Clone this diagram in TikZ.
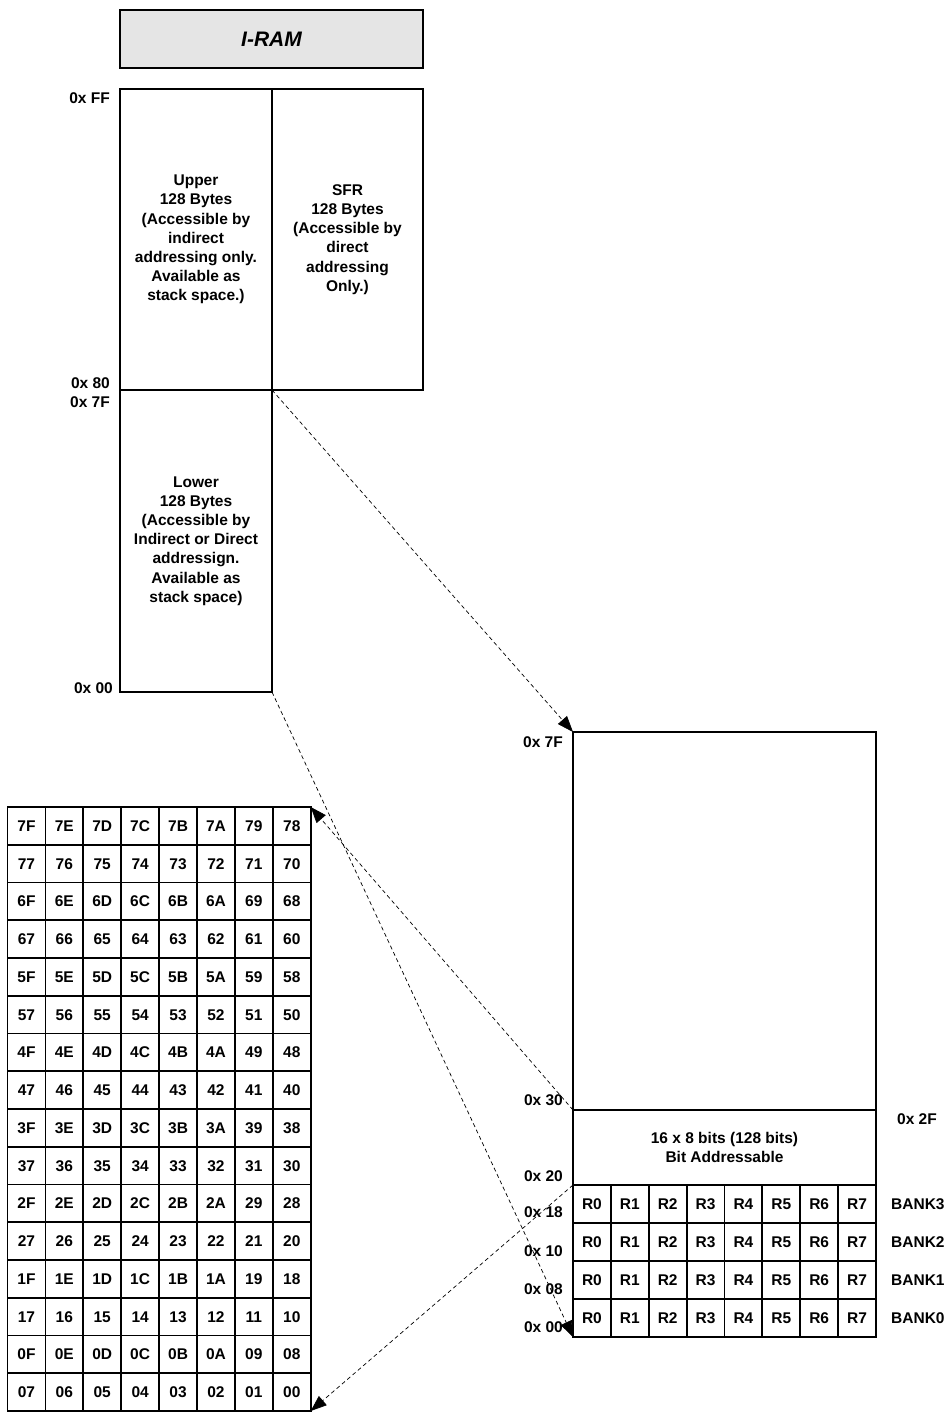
\documentclass[tikz,border=0pt]{standalone}
\usepackage{fontspec}
\setmainfont{Liberation Sans}
\usetikzlibrary{arrows.meta}
\begin{document}
\begin{tikzpicture}[x=1pt,y=-1pt,
  font=\fontsize{15.5}{19.2}\selectfont\bfseries,
  box/.style={draw, line width=1.8pt, inner sep=0pt, outer sep=0pt, align=center, anchor=north west},
  cell/.style={draw, line width=1.8pt, inner sep=0pt, outer sep=0pt, anchor=north west, text height=11.2pt, text depth=0pt},
  lbl/.style={anchor=east, inner sep=0pt, text height=11.2pt, text depth=0pt},
  rlbl/.style={anchor=west, inner sep=0pt, text height=11.2pt, text depth=0pt},
  link/.style={dash pattern=on 4pt off 3pt, line width=0.7pt, -{Triangle[length=16pt,width=12pt]}}]
\useasboundingbox (0,0) rectangle (949,1412);
% title
\node[box, line width=2.5pt, fill=black!10, minimum width=303pt, minimum height=58pt,
      font=\fontsize{21}{25}\selectfont\bfseries\itshape] (title) at (120,10) {I-RAM};
% upper / SFR / lower
\node[box, minimum width=152pt, minimum height=301pt] (up) at (120,89)
  {Upper\\128 Bytes\\(Accessible by\\indirect\\addressing only.\\Available as\\stack space.)};
\node[box, minimum width=151pt, minimum height=301pt] (sfr) at (272,89)
  {SFR\\128 Bytes\\(Accessible by\\direct\\addressing\\Only.)};
\node[box, minimum width=152pt, minimum height=302pt] (low) at (120,390)
  {Lower\\128 Bytes\\(Accessible by\\Indirect or Direct\\addressign.\\Available as\\stack space)};
% left labels
\node[lbl] (lff) at (110,98) {0x FF};
\node[lbl] (l80) at (110,383) {0x 80};
\node[lbl] (l7f) at (110,402) {0x 7F};
\node[lbl] (l00) at (113,688) {0x 00};
% right memory box
\node[box, minimum width=303pt, minimum height=378pt] (rt) at (573,732) {};
\node[box, minimum width=303pt, minimum height=75pt] (ba) at (573,1110) {16 x 8 bits (128 bits)\\Bit Addressable};
\foreach \b/\row in {3/0,2/1,1/2,0/3}{
  \foreach \c in {0,...,7}{
    \node[cell, minimum width=37.875pt, minimum height=38pt] (b\b-\c) at ({573+37.875*\c},{1185+38*\row}) {R\c};
  }
  \node[rlbl] (bank\b) at (891,{1204+38*\row}) {BANK\b};
}
\node[lbl] (r7f) at (563,742) {0x 7F};
\node[lbl] (r30) at (563,1100) {0x 30};
\node[lbl] (r20) at (563,1176) {0x 20};
\node[lbl] (r18) at (563,1212) {0x 18};
\node[lbl] (r10) at (563,1251) {0x 10};
\node[lbl] (r08) at (563,1289) {0x 08};
\node[lbl] (r00) at (563,1327) {0x 00};
\node[rlbl] (r2f) at (897,1119) {0x 2F};
% bit-addressable grid
\pgfmathsetbasenumberlength{2}
\foreach \r in {0,...,15}{
  \foreach \c in {0,...,7}{
    \pgfmathtruncatemacro\v{127-8*\r-\c}
    \pgfmathdectoBase{\hx}{\v}{16}
    \node[cell, minimum width=37.9pt, minimum height=37.75pt] (g-\r-\c) at ({7.5+37.9*\c},{807+37.75*\r}) {\hx};
  }
}
% connectors
\draw[link] (up.south east) -- (rt.north west);
\draw[link] (low.south east) -- (b0-0.south west);
\draw[link] (ba.north west) -- (g-0-7.north east);
\draw[link] (ba.south west) -- (g-15-7.south east);
\end{tikzpicture}
\end{document}
